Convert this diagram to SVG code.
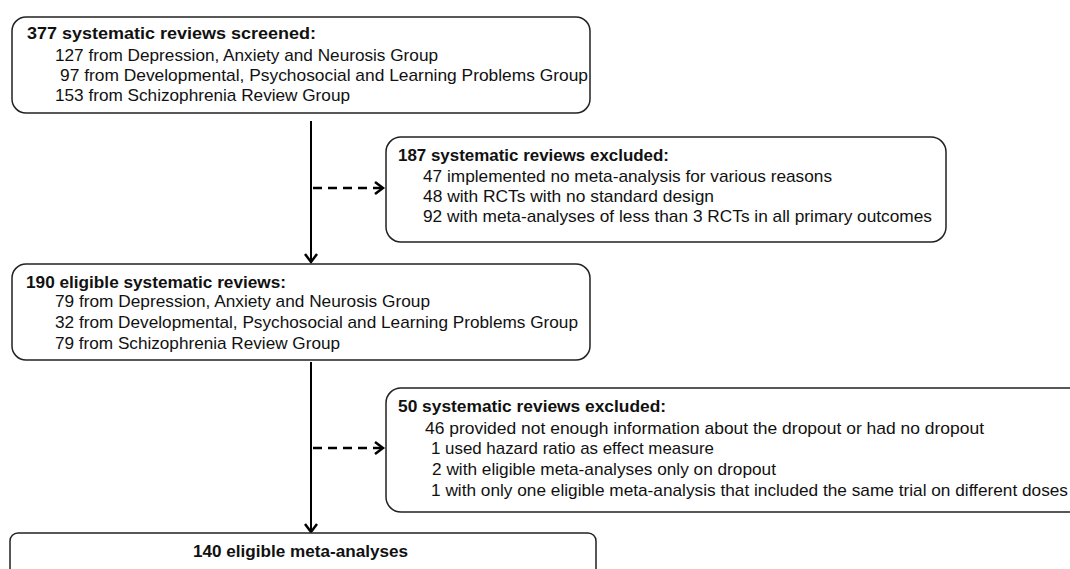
<svg xmlns="http://www.w3.org/2000/svg" width="1070" height="569" viewBox="0 0 1070 569">
<style>
.box{fill:#fff;stroke:#222;stroke-width:1.5}
text{font-family:"Liberation Sans",Arial,sans-serif;font-size:17px;fill:#111}
.h{font-weight:bold}
.ln{stroke:#000;stroke-width:2;fill:none}
.ds{stroke:#000;stroke-width:2.5;fill:none;stroke-dasharray:9 6}
</style>
<defs>
<marker id="ah" markerWidth="14" markerHeight="14" refX="11" refY="7" orient="auto" markerUnits="userSpaceOnUse">
<path d="M3,1 L11,7 L3,13" fill="none" stroke="#000" stroke-width="2.5"/>
</marker>
</defs>
<rect width="1070" height="569" fill="#fff"/>
<g id="connectors">
<line class="ln" x1="311" y1="121" x2="311" y2="262" marker-end="url(#ah)"/>
<line class="ds" x1="313" y1="188" x2="383" y2="188" marker-end="url(#ah)"/>
<line class="ln" x1="311" y1="362" x2="311" y2="532" marker-end="url(#ah)"/>
<line class="ds" x1="313" y1="448" x2="383" y2="448" marker-end="url(#ah)"/>
</g>
<g id="screened">
<rect class="box" x="12" y="17" width="578" height="96" rx="14"/>
<text class="h" x="27" y="39" textLength="289" lengthAdjust="spacingAndGlyphs">377 systematic reviews screened:</text>
<text x="55" y="61" textLength="383" lengthAdjust="spacingAndGlyphs">127 from Depression, Anxiety and Neurosis Group</text>
<text x="60" y="81" textLength="528" lengthAdjust="spacingAndGlyphs">97 from Developmental, Psychosocial and Learning Problems Group</text>
<text x="55" y="101" textLength="295" lengthAdjust="spacingAndGlyphs">153 from Schizophrenia Review Group</text>
</g>
<g id="excluded1">
<rect class="box" x="386" y="137" width="560" height="105" rx="15"/>
<text class="h" x="398" y="161" textLength="271" lengthAdjust="spacingAndGlyphs">187 systematic reviews excluded:</text>
<text x="423" y="182" textLength="409" lengthAdjust="spacingAndGlyphs">47 implemented no meta-analysis for various reasons</text>
<text x="423" y="202" textLength="291" lengthAdjust="spacingAndGlyphs">48 with RCTs with no standard design</text>
<text x="423" y="222" textLength="509" lengthAdjust="spacingAndGlyphs">92 with meta-analyses of less than 3 RCTs in all primary outcomes</text>
</g>
<g id="eligible">
<rect class="box" x="12" y="264" width="578" height="96" rx="14"/>
<text class="h" x="26" y="288" textLength="260" lengthAdjust="spacingAndGlyphs">190 eligible systematic reviews:</text>
<text x="55" y="307" textLength="375" lengthAdjust="spacingAndGlyphs">79 from Depression, Anxiety and Neurosis Group</text>
<text x="55" y="328" textLength="523" lengthAdjust="spacingAndGlyphs">32 from Developmental, Psychosocial and Learning Problems Group</text>
<text x="55" y="349" textLength="285" lengthAdjust="spacingAndGlyphs">79 from Schizophrenia Review Group</text>
</g>
<g id="excluded2">
<rect class="box" x="386" y="388" width="700" height="124" rx="15"/>
<text class="h" x="398" y="412" textLength="268" lengthAdjust="spacingAndGlyphs">50 systematic reviews excluded:</text>
<text x="425" y="434" textLength="559" lengthAdjust="spacingAndGlyphs">46 provided not enough information about the dropout or had no dropout</text>
<text x="431" y="454" textLength="283" lengthAdjust="spacingAndGlyphs">1 used hazard ratio as effect measure</text>
<text x="432" y="475" textLength="344" lengthAdjust="spacingAndGlyphs">2 with eligible meta-analyses only on dropout</text>
<text x="431" y="496" textLength="637" lengthAdjust="spacingAndGlyphs">1 with only one eligible meta-analysis that included the same trial on different doses</text>
</g>
<g id="meta">
<rect class="box" x="10" y="533" width="586" height="60" rx="8"/>
<text class="h" x="193" y="557" textLength="215" lengthAdjust="spacingAndGlyphs">140 eligible meta-analyses</text>
</g>
</svg>
